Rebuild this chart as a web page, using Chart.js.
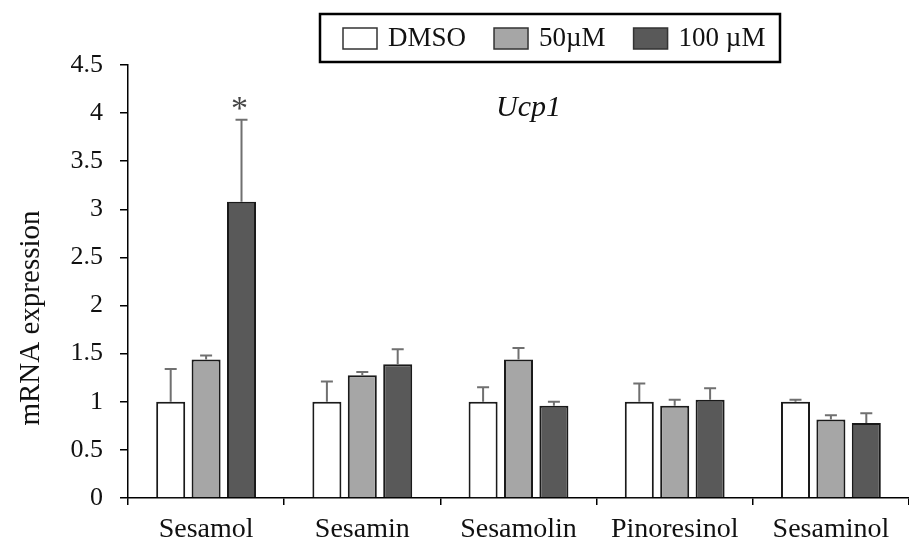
<!DOCTYPE html>
<html>
<head>
<meta charset="utf-8">
<script src="https://cdn.jsdelivr.net/npm/chart.js@4"></script>
<style>
  html, body { margin: 0; padding: 0; background: #fff; }
  #wrap { width: 909px; height: 546px; }
</style>
</head>
<body>
<div id="wrap"><canvas id="mainChart"></canvas></div>
<script>
// Ucp1 mRNA expression data
const categories = ['Sesamol', 'Sesamin', 'Sesamolin', 'Pinoresinol', 'Sesaminol'];
const seriesLabels = ['DMSO', '50\u00b5M', '100 \u00b5M'];
const dmsoValues = [1.0, 1.0, 1.0, 1.0, 1.0];
const dmsoErrors = [0.34, 0.21, 0.15, 0.19, 0.02];
const uM50Values = [1.44, 1.275, 1.44, 0.96, 0.815];
const uM50Errors = [0.04, 0.035, 0.12, 0.06, 0.045];
const uM100Values = [3.08, 1.39, 0.96, 1.02, 0.78];
const uM100Errors = [0.85, 0.155, 0.04, 0.12, 0.10];
const yTicks = { min: 0, max: 4.5, step: 0.5 };
const significance = { dataset: 2, index: 0, mark: '*' };

const serif = '"Liberation Serif", "Times New Roman", serif';

const errorBars = {
    id: 'errorBars',
    afterDatasetsDraw(chart) {
        const ctx = chart.ctx;
        const y = chart.scales.y;
        ctx.save();
        chart.data.datasets.forEach((ds, di) => {
            const meta = chart.getDatasetMeta(di);
            meta.data.forEach((bar, i) => {
                const top = y.getPixelForValue(ds.data[i] + ds.errors[i]);
                const base = y.getPixelForValue(ds.data[i]);
                ctx.strokeStyle = '#707070';
                ctx.lineWidth = 2;
                ctx.beginPath();
                ctx.moveTo(bar.x, base);
                ctx.lineTo(bar.x, top);
                ctx.moveTo(bar.x - 6, top);
                ctx.lineTo(bar.x + 6, top);
                ctx.stroke();
                if (di === significance.dataset && i === significance.index) {
                    ctx.fillStyle = '#444';
                    ctx.font = '34px ' + serif;
                    ctx.textAlign = 'center';
                    ctx.textBaseline = 'middle';
                    ctx.fillText(significance.mark, bar.x - 2, top - 10);
                }
            });
        });
        ctx.restore();
    }
};

const decorations = {
    id: 'decorations',
    afterDraw(chart) {
        const ctx = chart.ctx;
        const area = chart.chartArea;
        ctx.save();

        // gene name
        ctx.fillStyle = '#111';
        ctx.font = 'italic 30px ' + serif;
        ctx.textAlign = 'left';
        ctx.textBaseline = 'alphabetic';
        ctx.fillText('Ucp1', area.left + 368, 116);

        // y axis title
        ctx.save();
        ctx.translate(31, 318);
        ctx.rotate(-Math.PI / 2);
        ctx.font = '29px ' + serif;
        ctx.textAlign = 'center';
        ctx.textBaseline = 'middle';
        ctx.fillText('mRNA expression', 0, 0);
        ctx.restore();

        // legend box
        ctx.lineWidth = 2.5;
        ctx.strokeStyle = '#000';
        ctx.strokeRect(320, 14, 460, 48);
        ctx.font = '27px ' + serif;
        ctx.textBaseline = 'middle';
        let x = 343;
        chart.data.datasets.forEach(ds => {
            ctx.fillStyle = ds.backgroundColor;
            ctx.fillRect(x, 28, 34, 21);
            ctx.lineWidth = 1.5;
            ctx.strokeStyle = '#333';
            ctx.strokeRect(x, 28, 34, 21);
            ctx.fillStyle = '#111';
            ctx.fillText(ds.label, x + 45, 39);
            x += 45 + ctx.measureText(ds.label).width + 28;
        });
        ctx.restore();
    }
};

const ctx = document.getElementById('mainChart').getContext('2d');
new Chart(ctx, {
    type: 'bar',
    data: {
        labels: categories,
        datasets: [{
            label: seriesLabels[0],
            data: dmsoValues,
            errors: dmsoErrors,
            backgroundColor: '#ffffff'
        }, {
            label: seriesLabels[1],
            data: uM50Values,
            errors: uM50Errors,
            backgroundColor: '#a6a6a6'
        }, {
            label: seriesLabels[2],
            data: uM100Values,
            errors: uM100Errors,
            backgroundColor: '#595959'
        }].map(ds => Object.assign(ds, {
            borderColor: '#1a1a1a',
            borderWidth: 2,
            categoryPercentage: 0.68,
            barPercentage: 0.82
        }))
    },
    options: {
        responsive: true,
        maintainAspectRatio: false,
        animation: false,
        layout: { padding: { top: 65, right: 0, left: 0, bottom: 0 } },
        plugins: {
            legend: { display: false },
            title: { display: false },
            tooltip: { enabled: false }
        },
        scales: {
            x: {
                afterFit: s => { s.height = 48; },
                grid: { drawOnChartArea: false, drawTicks: true, tickLength: 7, color: '#000', lineWidth: 1.5 },
                border: { color: '#000', width: 1.5 },
                ticks: { color: '#111', font: { family: serif, size: 28 }, padding: 8 }
            },
            y: {
                min: yTicks.min,
                max: yTicks.max,
                afterFit: s => { s.width = 128; },
                grid: { drawOnChartArea: false, drawTicks: true, tickLength: 8, color: '#000', lineWidth: 1.5 },
                border: { color: '#000', width: 1.5 },
                ticks: {
                    stepSize: yTicks.step,
                    color: '#111',
                    font: { family: serif, size: 26 },
                    padding: 17,
                    callback: v => String(Math.round(v * 10) / 10)
                }
            }
        }
    },
    plugins: [errorBars, decorations]
});
</script>
</body>
</html>
